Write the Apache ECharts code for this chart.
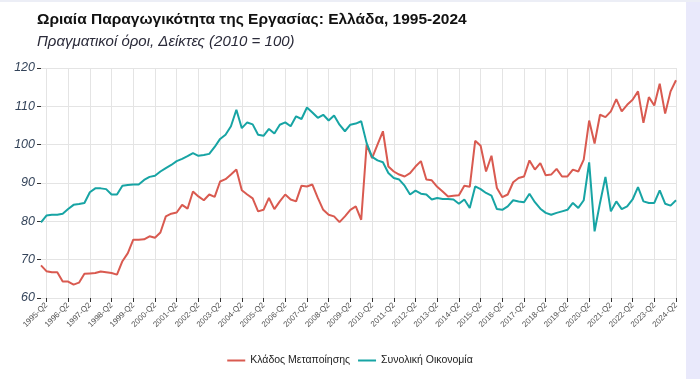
<!DOCTYPE html>
<html><head><meta charset="utf-8">
<script src="https://cdn.jsdelivr.net/npm/echarts@6/dist/echarts.min.js"></script>
<style>html,body{margin:0;padding:0;background:#fff}#c{width:700px;height:379px}</style>
</head><body><div id="c"></div>
<script>
const startYear = 1995;
const quarters = [];
for (let y = startYear; y <= 2024; y++) for (let q = 1; q <= 4; q++) { if (y === 2024 && q > 2) break; quarters.push(y + '-Q' + q); }

const manufacturing = [
68.5,67.0,66.7,66.7,64.3,64.3,63.5,64.0,66.3,66.4,66.5,66.9,66.7,66.5,66.1,69.6,71.7,75.2,75.2,75.3,
76.1,75.7,77.1,81.3,82.0,82.3,84.3,83.3,87.8,86.5,85.5,87.0,86.4,90.4,91.0,92.2,93.5,88.1,87.0,86.0,
82.6,83.0,86.1,83.2,85.2,87.0,85.7,85.2,89.3,89.1,89.6,86.1,83.0,81.7,81.3,79.8,81.3,83.0,83.9,80.4,
100.0,96.5,100.0,103.5,94.3,93.0,92.2,91.7,92.6,94.3,95.7,90.9,90.7,89.0,87.8,86.5,86.7,86.8,89.3,89.0,
101.0,99.7,93.0,97.1,88.7,86.3,87.0,90.2,91.3,91.7,95.9,93.5,95.2,92.0,92.2,93.7,91.7,91.7,93.5,93.0,
96.1,106.3,100.3,107.8,107.2,108.7,111.9,108.7,110.4,111.7,113.9,105.7,112.4,110.2,115.9,108.1,113.9,116.8
];
const economy = [
79.7,81.5,81.7,81.7,82.0,83.2,84.3,84.5,84.8,87.6,88.6,88.6,88.4,87.0,87.0,89.3,89.5,89.6,89.6,90.8,
91.6,91.9,93.0,93.9,94.7,95.7,96.3,97.0,97.8,97.1,97.3,97.6,99.4,101.5,102.6,104.8,109.1,104.3,105.8,105.3,
102.6,102.3,104.1,102.9,105.2,105.8,104.8,107.4,106.7,109.7,108.4,107.0,107.8,106.3,107.6,105.2,103.5,105.2,105.5,106.1,
100.4,96.8,95.9,95.4,92.6,91.3,90.9,89.3,87.0,88.0,87.2,87.0,85.7,86.1,85.8,85.8,85.7,84.6,85.7,83.5,
89.1,88.4,87.4,86.7,83.2,83.0,83.9,85.5,85.2,85.0,87.2,85.0,83.3,82.2,81.7,82.2,82.6,83.0,84.8,83.5,
85.5,95.4,77.4,84.8,91.6,82.6,85.2,83.2,83.9,85.7,88.9,85.2,84.8,84.8,88.1,84.6,84.1,85.5
];
const seriesNames = ['Κλάδος Μεταποίησης', 'Συνολική Οικονομία'];
const yTicks = { min: 60, max: 120, interval: 10 };
const titleText = 'Ωριαία Παραγωγικότητα της Εργασίας: Ελλάδα, 1995-2024';
const subtitleText = 'Πραγματικοί όροι, Δείκτες (2010 = 100)';

const RED = '#d95a50', TEAL = '#17a4a4';
const showIdx = (i) => i % 4 === 1;

const chart = echarts.init(document.getElementById('c'), null, { renderer: 'canvas' });
chart.setOption({
  animation: false,
  backgroundColor: '#fff',
  graphic: [
    { type: 'rect', shape: { x: 686, y: 0, width: 14, height: 379 }, style: { fill: '#e9e9fb' }, silent: true },
    { type: 'rect', shape: { x: 0, y: 0, width: 700, height: 2 }, style: { fill: '#eceef6' }, silent: true }
  ],
  title: {
    text: titleText,
    subtext: subtitleText,
    left: 32, top: 7,
    itemGap: 6,
    textStyle: { fontFamily: 'Liberation Sans, Arial, sans-serif', fontSize: 15.5, fontWeight: 'bold', color: '#111' },
    subtextStyle: { fontFamily: 'Liberation Sans, Arial, sans-serif', fontSize: 15, fontStyle: 'italic', color: '#2b2b3a' }
  },
  legend: {
    bottom: 8, left: 'center',
    icon: 'rect', itemWidth: 18, itemHeight: 2, itemGap: 8,
    textStyle: { fontFamily: 'Liberation Sans, Arial, sans-serif', fontSize: 10.5, color: '#222' },
    data: seriesNames
  },
  grid: { left: 41, right: 24, top: 68, bottom: 81, containLabel: false },
  xAxis: {
    type: 'category', data: quarters, boundaryGap: false,
    axisLine: { show: false },
    axisTick: { show: true, interval: (i) => showIdx(i), length: 4, lineStyle: { color: '#333' } },
    axisLabel: { interval: (i) => showIdx(i), rotate: 45, fontSize: 8, color: '#555', margin: 6, fontFamily: 'Liberation Sans, Arial, sans-serif' },
    splitLine: { show: true, interval: (i) => showIdx(i), lineStyle: { color: '#e4e4e4', width: 1 } }
  },
  yAxis: {
    type: 'value', min: yTicks.min, max: yTicks.max, interval: yTicks.interval,
    axisLine: { show: false },
    axisTick: { show: true, length: 4, lineStyle: { color: '#333' } },
    axisLabel: { fontSize: 12.5, fontStyle: 'italic', color: '#34445a', margin: 6, fontFamily: 'Liberation Sans, Arial, sans-serif' },
    splitLine: { show: true, lineStyle: { color: '#e4e4e4', width: 1 } }
  },
  series: [
    { name: seriesNames[0], type: 'line', data: manufacturing, showSymbol: false, lineStyle: { color: RED, width: 2 }, itemStyle: { color: RED } },
    { name: seriesNames[1], type: 'line', data: economy, showSymbol: false, lineStyle: { color: TEAL, width: 2 }, itemStyle: { color: TEAL } }
  ]
});
</script>
</body></html>
